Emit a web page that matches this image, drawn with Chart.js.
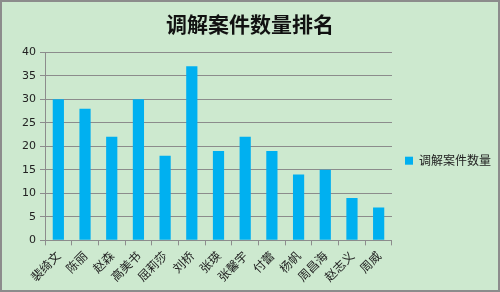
<!DOCTYPE html>
<html>
<head>
<meta charset="utf-8">
<script src="https://cdn.jsdelivr.net/npm/chart.js@4.4.0/dist/chart.umd.min.js"></script>
<style>
  html, body { margin: 0; padding: 0; background: #fff; }
  #wrap { width: 500px; height: 292px; box-sizing: border-box; border: 2px solid #8c8c8c; background: #cde9cf; }
</style>
</head>
<body>
<div id="wrap"><canvas id="chart" width="496" height="288"></canvas></div>
<script>
var titulo = "调解案件数量排名";
var serie = "调解案件数量";
var nombres = ["裴绮文", "陈丽", "赵森", "高美书", "屈莉莎", "刘桥", "张瑛", "张馨宇", "付蕾", "杨帆", "周昌海", "赵志义", "周威"];
var casos = [30, 28, 22, 30, 18, 37, 19, 22, 19, 14, 15, 9, 7];

var fuente = "'Noto Sans CJK SC', 'DejaVu Sans', sans-serif";

var canvas = document.getElementById("chart").getContext("2d");
window.bar = new Chart(canvas, {
  type: "bar",
  data: {
    labels: nombres,
    datasets: [{
      label: serie,
      data: casos,
      backgroundColor: "#00b0f0",
      categoryPercentage: 0.42,
      barPercentage: 1
    }]
  },
  options: {
    responsive: false,
    animation: false,
    layout: { padding: { top: 4, left: -3, right: -3, bottom: 3 } },
    plugins: {
      title: {
        display: true,
        text: titulo,
        color: "#111",
        font: { family: fuente, size: 21, weight: "bold" },
        padding: { top: 5, bottom: 16 }
      },
      legend: {
        position: "right",
        title: { display: true, text: " ", font: { size: 12 }, padding: { top: 7, bottom: 7 } },
        labels: {
          boxWidth: 8,
          boxHeight: 8,
          color: "#222",
          font: { family: fuente, size: 12 },
          padding: 13
        }
      },
      tooltip: { enabled: false }
    },
    scales: {
      y: {
        min: 0,
        max: 40,
        afterFit: function(scale) { scale.width = 46; },
        ticks: { stepSize: 5, color: "#222", font: { family: "'DejaVu Sans', sans-serif", size: 11 }, padding: 4 },
        grid: { color: "#8c8c8c", tickLength: 5 },
        border: { color: "#8c8c8c" }
      },
      x: {
        ticks: { minRotation: 45, maxRotation: 45, color: "#222", font: { family: fuente, size: 12 }, padding: 3 },
        grid: { drawOnChartArea: false, color: "#8c8c8c", tickLength: 5 },
        border: { color: "#8c8c8c" }
      }
    }
  }
});
</script>
</body>
</html>
